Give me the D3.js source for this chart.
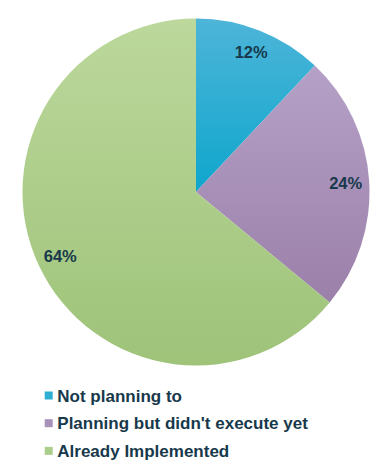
<!DOCTYPE html>
<html>
<head>
<meta charset="utf-8">
<script src="https://cdn.jsdelivr.net/npm/d3@7"></script>
<style>
  body { margin: 0; background: #fff; }
  text { font-family: "Liberation Sans", Arial, sans-serif; font-weight: bold; fill: #17394b; }
</style>
</head>
<body>
<svg id="chart" width="387" height="470"></svg>
<script>
// chart data
var categories = ["Not planning to", "Planning but didn't execute yet", "Already Implemented"];
var shares = [12, 24, 64];
var topColors = ["#4db5d8", "#b5a1c7", "#bcd89c"];
var bottomColors = ["#0fa6cd", "#9b80aa", "#9ec379"];

var svg = d3.select("svg#chart");
var cx = 196, cy = 192, radius = 173.5;

// vertical gradient per slice (top light -> bottom dark)
var defs = svg.append("defs");
categories.forEach(function (c, i) {
    var g = defs.append("linearGradient")
    .attr("id", "grad" + i)
    .attr("x1", 0).attr("y1", 0)
    .attr("x2", 0).attr("y2", 1);
    g.append("stop").attr("offset", "0%").attr("stop-color", topColors[i]);
    g.append("stop").attr("offset", "100%").attr("stop-color", bottomColors[i]);
});

var pie = d3.pie().sort(null).value(d => d);
var arc = d3.arc().innerRadius(0).outerRadius(radius);
var labelArc = d3.arc().innerRadius(150).outerRadius(150);

var gPie = svg.append("g")
.attr("transform", `translate(${cx},${cy})`);

var slices = pie(shares);

gPie.selectAll("path")
.data(slices)
.enter().append("path")
.attr("d", arc)
.attr("fill", (d, i) => `url(#grad${i})`);

gPie.selectAll("text")
.data(slices)
.enter().append("text")
.attr("x", d => labelArc.centroid(d)[0])
.attr("y", d => labelArc.centroid(d)[1])
.attr("dy", "0.36em")
.attr("text-anchor", "middle")
.attr("font-size", 16.5)
.text(d => d.data + "%");

// legend
var legend = svg.append("g")
.attr("transform", "translate(44.7,395.5)");

var rows = legend.selectAll("g")
.data(categories)
.enter().append("g")
.attr("transform", (d, i) => `translate(0,${i * 27.7})`);

rows.append("rect")
.attr("x", 0)
.attr("y", -4)
.attr("width", 8)
.attr("height", 8)
.attr("fill", (d, i) => d3.interpolateRgb(topColors[i], bottomColors[i])(0.5));

rows.append("text")
.attr("x", 12.6)
.attr("dy", "0.36em")
.attr("font-size", 17)
.text(d => d);
</script>
</body>
</html>
